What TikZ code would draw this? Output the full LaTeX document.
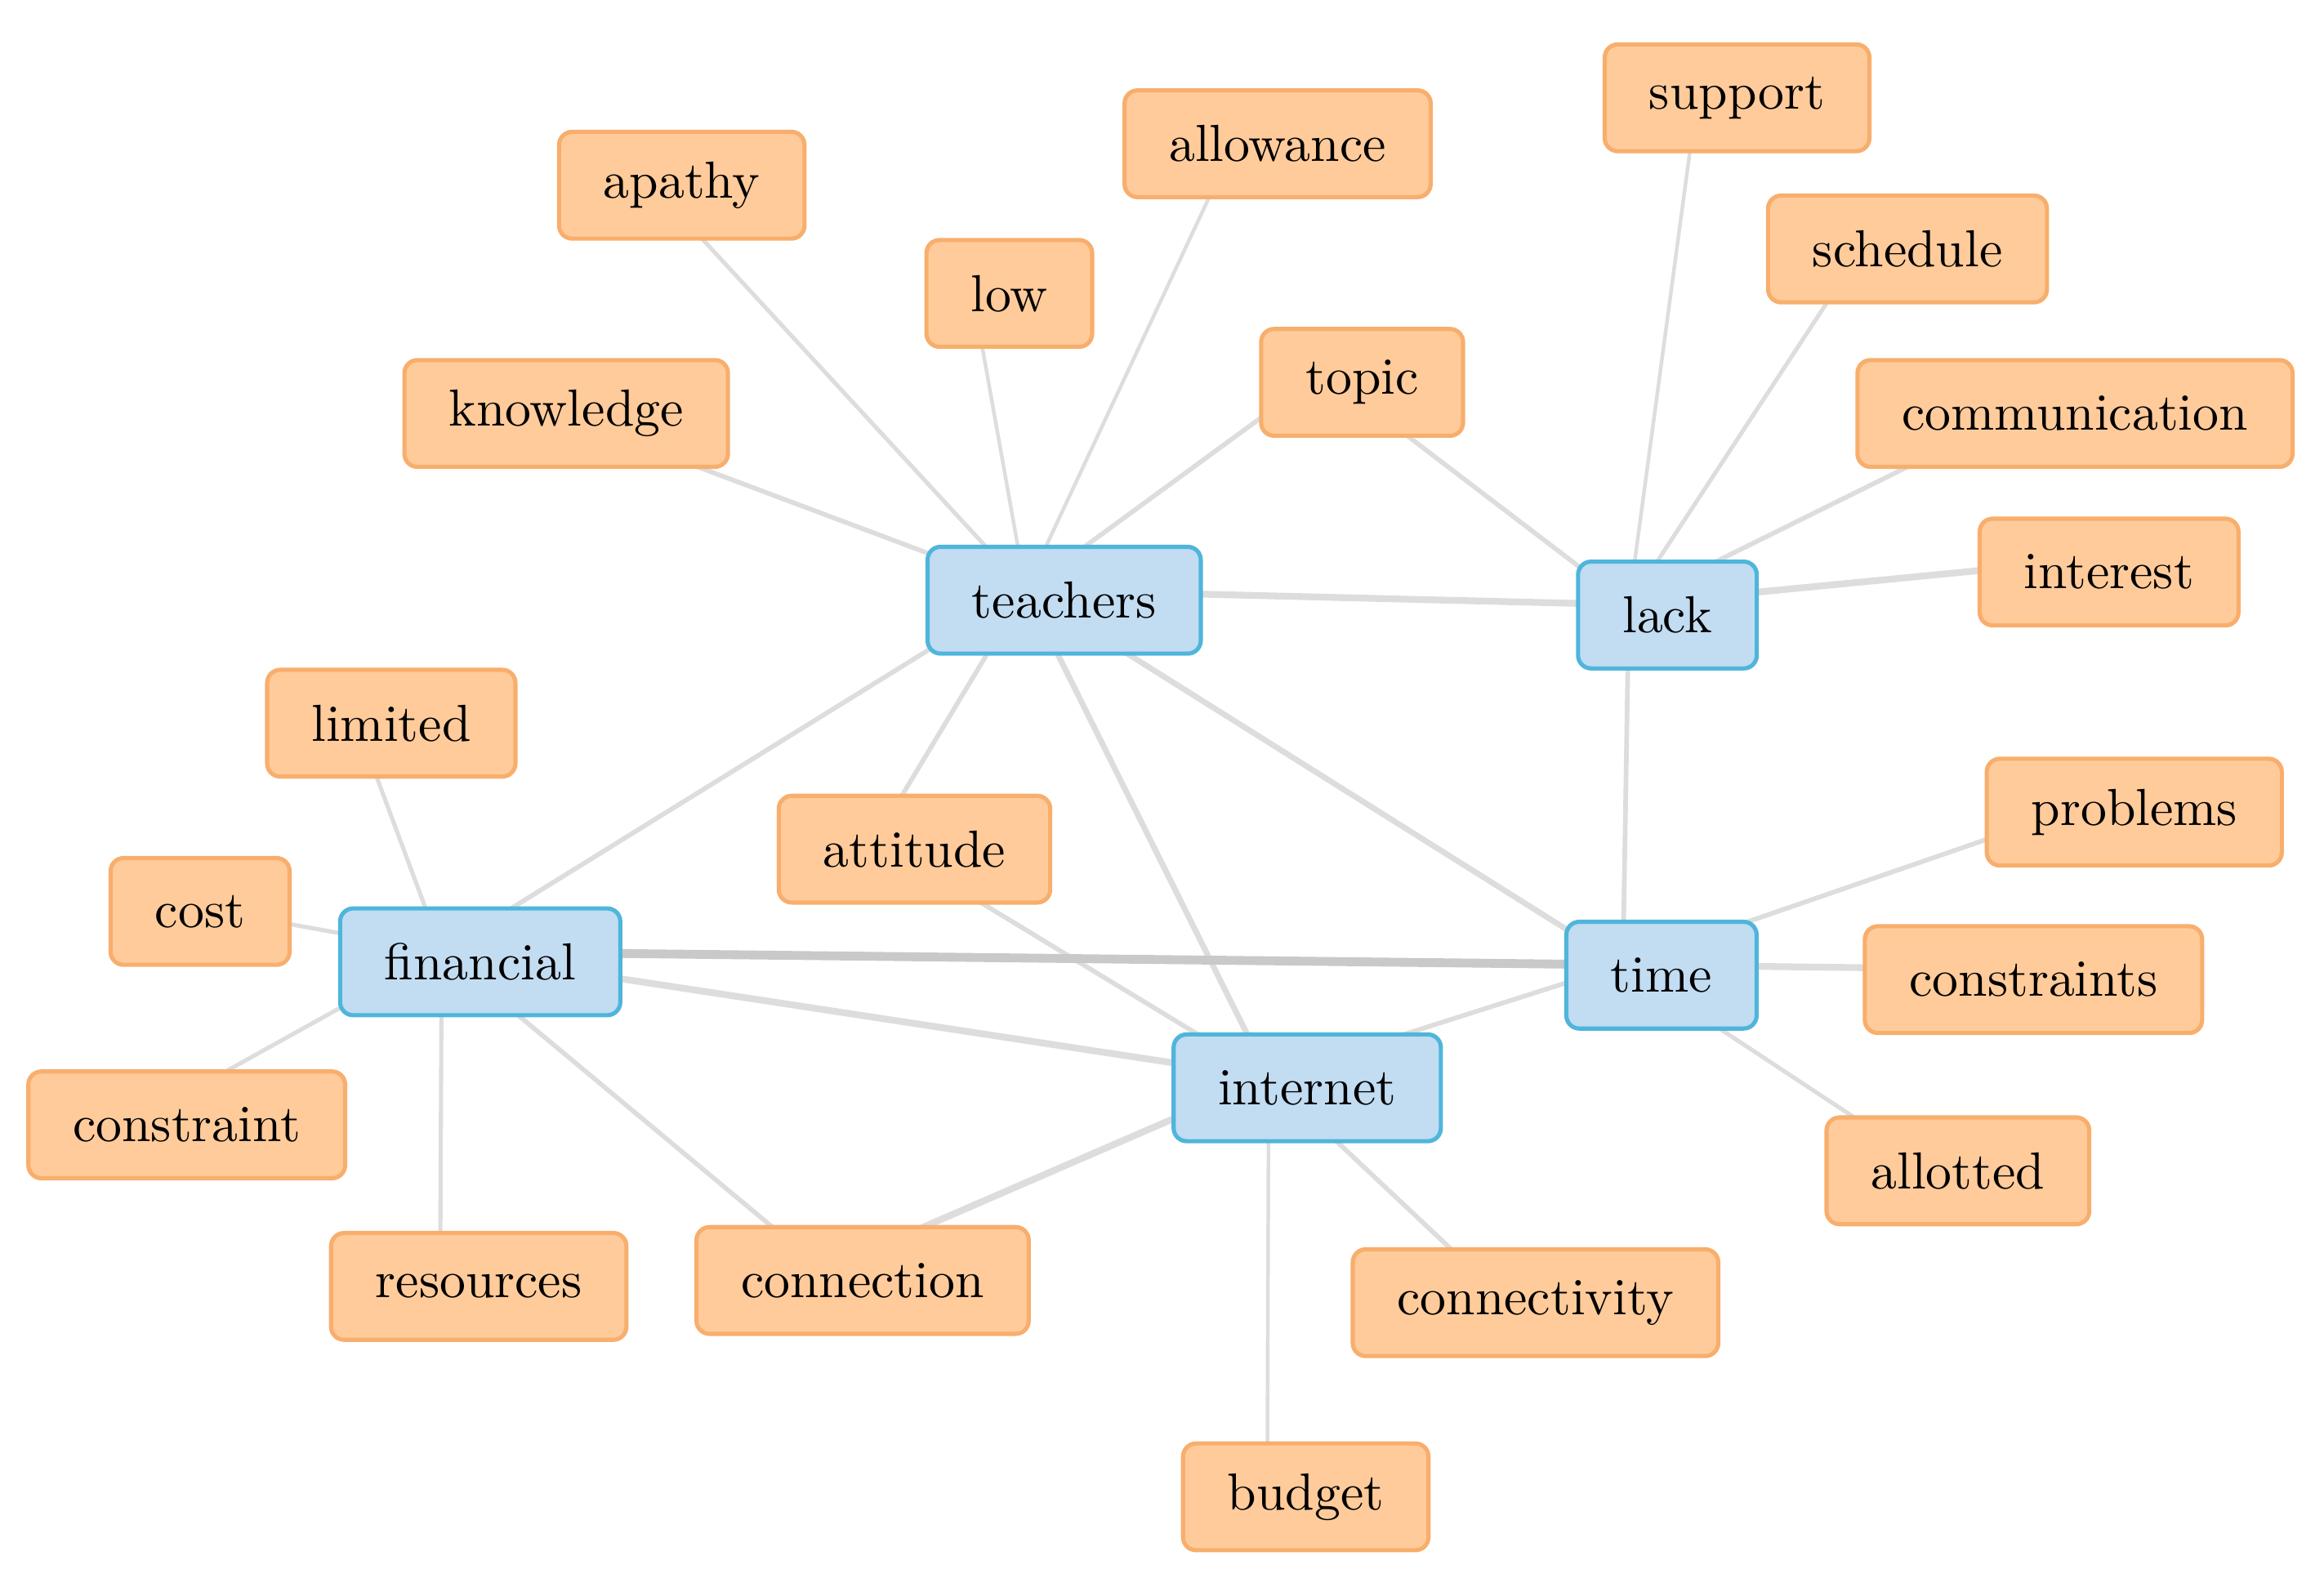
\documentclass[tikz,border=0pt]{standalone}
\usetikzlibrary{backgrounds}
\definecolor{skyfill}{HTML}{C2DCF2}
\definecolor{skyline}{HTML}{4FB5DB}
\definecolor{peachfill}{HTML}{FFCB9B}
\definecolor{peachline}{HTML}{F8AE6C}
\definecolor{linkgray}{HTML}{DDDDDD}
\definecolor{linkdark}{HTML}{C9C9C9}
\tikzset{
  hubbox/.style={
    rectangle, rounded corners=2.5pt, draw=skyline, fill=skyfill, line width=0.8pt,
    minimum height=0.72cm, inner xsep=0.3cm, inner ysep=2pt,
    font=\normalsize
  },
  termbox/.style={
    rectangle, rounded corners=2.5pt, draw=peachline, fill=peachfill, line width=0.8pt,
    minimum height=0.72cm, inner xsep=0.3cm, inner ysep=2pt,
    font=\normalsize
  },
  link/.style={draw=#1, line width=0.9pt},
  link/.default=linkgray,
}

\begin{document}
\begin{tikzpicture}[x=0.01cm, y=-0.01cm]
  \useasboundingbox (0,0) rectangle (1568,1068);
  % hubs
  \node[hubbox] (teachers)  at (718,405) {teachers};
  \node[hubbox] (lack)      at (1125,415) {lack};
  \node[hubbox] (financial) at (324,649) {financial};
  \node[hubbox] (time)      at (1121,658) {time};
  \node[hubbox] (internet)  at (882,734) {internet};
  % terms
  \node[termbox] (apathy)        at (460,125)  {apathy};
  \node[termbox] (allowance)     at (862,97)   {allowance};
  \node[termbox] (support)       at (1172,66)  {support};
  \node[termbox] (schedule)      at (1287,168) {schedule};
  \node[termbox] (low)           at (681,198)  {low};
  \node[termbox] (topic)         at (919,258)  {topic};
  \node[termbox] (knowledge)     at (382,279)  {knowledge};
  \node[termbox] (communication) at (1400,279) {communication};
  \node[termbox] (interest)      at (1423,386) {interest};
  \node[termbox] (limited)       at (264,488)  {limited};
  \node[termbox] (attitude)      at (617,573)  {attitude};
  \node[termbox] (problems)      at (1440,548) {problems};
  \node[termbox] (cost)          at (135,615)  {cost};
  \node[termbox] (constraints)   at (1372,661) {constraints};
  \node[termbox] (constraint)    at (126,759)  {constraint};
  \node[termbox] (allotted)      at (1321,790) {allotted};
  \node[termbox] (resources)     at (323,868)  {resources};
  \node[termbox] (connection)    at (582,864)  {connection};
  \node[termbox] (connectivity)  at (1036,879) {connectivity};
  \node[termbox] (budget)        at (881,1010) {budget};
  % links, behind the boxes
  \begin{scope}[on background layer]
    \foreach \a/\b/\w in {teachers/apathy/0.8, teachers/low/0.7, teachers/allowance/0.7,
        teachers/topic/0.9, teachers/knowledge/0.9, teachers/attitude/0.9,
        teachers/financial/0.9, teachers/internet/1.1, teachers/time/1.1,
        teachers/lack/1.3, lack/support/0.7, lack/schedule/0.8,
        lack/communication/0.9, lack/interest/1.3, lack/topic/0.9, lack/time/0.9,
        financial/limited/0.8, financial/cost/0.8, financial/constraint/0.8,
        financial/resources/0.8, financial/connection/0.9, financial/internet/1.3,
        time/problems/0.9, time/constraints/1.3, time/allotted/0.8, time/internet/0.9,
        internet/connection/1.3, internet/connectivity/0.9, internet/budget/0.7,
        internet/attitude/0.9}
      \draw[link, line width=\w pt] ([shift={(-26,-7)}]\a.center) -- ([shift={(-26,-7)}]\b.center);
    \draw[link=linkdark, line width=1.7pt] ([shift={(-26,-7)}]financial.center) -- ([shift={(-26,-7)}]time.center);
  \end{scope}
\end{tikzpicture}
\end{document}
